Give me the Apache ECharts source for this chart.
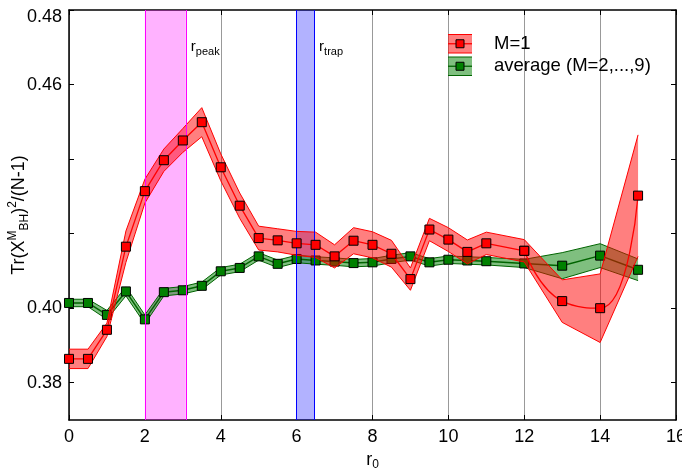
<!DOCTYPE html>
<html><head><meta charset="utf-8">
<script src="https://cdn.jsdelivr.net/npm/echarts@6/dist/echarts.min.js"></script>
<style>html,body{margin:0;padding:0;background:#fff}#c{width:682px;height:470px}</style>
</head><body><div id="c"></div>
<script>
// ---- data ----
const r0 = [0,0.5,1,1.5,2,2.5,3,3.5,4,4.5,5,5.5,6,6.5,7,7.5,8,8.5,9,9.5,10,10.5,11,12,13,14,15];
const m1 = [0.3864,0.3864,0.3942,0.4165,0.4314,0.4397,0.4450,0.4499,0.4378,0.4275,0.4188,0.4182,0.4174,0.4170,0.4139,0.4181,0.4170,0.4146,0.4078,0.4211,0.4184,0.4151,0.4174,0.4154,0.4019,0.4000,0.4302];
const m1Err = [0.0026,0.0026,0.0018,0.0042,0.0032,0.0030,0.0032,0.0039,0.0036,0.0034,0.0032,0.0031,0.0032,0.0034,0.0031,0.0035,0.0035,0.0036,0.0030,0.0030,0.0032,0.0032,0.0030,0.0030,0.0057,0.0092,0.0163];
const avg = [0.4014,0.4014,0.3982,0.4045,0.3970,0.4043,0.4048,0.4060,0.4099,0.4108,0.4139,0.4119,0.4132,0.4128,0.4125,0.4121,0.4123,0.4132,0.4139,0.4123,0.4130,0.4128,0.4126,0.4120,0.4114,0.4141,0.4103];
const avgErr = [0.0010,0.0010,0.0012,0.0012,0.0012,0.0010,0.0010,0.0010,0.0010,0.0010,0.0010,0.0010,0.0010,0.0010,0.0010,0.0010,0.0010,0.0010,0.0010,0.0010,0.0010,0.0010,0.0010,0.0011,0.0035,0.0032,0.0029];
const yTickValues = [0.38,0.40,0.42,0.44,0.46,0.48];
const yLabelValues = [0.38,0.40,0.46,0.48];
const bandLabels = ['peak','trap'];
const bandFrom = [2, 6];
const bandTo = [3.08, 6.46];
const legendNames = ['M=1','average (M=2,...,9)'];
const splineFrom = 12;

// ---- styling ----
const FONT = 'Liberation Sans, Arial, Helvetica, sans-serif';
const bandFill = ['rgba(255,0,255,0.3)','rgba(0,0,255,0.3)'];
const bandEdge = ['#ff00ff','#0000ff'];
const RED = '#ff0000', RED_FILL = 'rgba(255,0,0,0.5)';
const GREEN = '#008000', GREEN_EDGE = '#006400', GREEN_FILL = 'rgba(0,128,0,0.5)';

const chart = echarts.init(document.getElementById('c'));
const pairs = (ys, idx) => idx.map(i => [r0[i], ys[i]]);
const allIdx = r0.map((_, i) => i);
const split = r0.indexOf(splineFrom);
const idxA = allIdx.filter(i => i <= split);
const idxB = allIdx.filter(i => i >= split);
const yTop = yTickValues[yTickValues.length - 1];

function bandSeries(ys, es, fill, edge) {
  return {
    type: 'custom', silent: true, z: 2,
    data: r0.map((x, i) => [x, ys[i] - es[i], ys[i] + es[i]]),
    encode: { x: 0, y: [1, 2] },
    renderItem: function (params, api) {
      if (params.dataIndex !== 0) return null;
      const up = r0.map((x, i) => api.coord([x, ys[i] + es[i]]));
      const lo = r0.map((x, i) => api.coord([x, ys[i] - es[i]]));
      return { type: 'group', children: [
        { type: 'polygon', shape: { points: up.concat(lo.slice().reverse()) }, style: { fill: fill, stroke: null } },
        { type: 'polyline', shape: { points: up }, style: { stroke: edge, lineWidth: 1, fill: null } },
        { type: 'polyline', shape: { points: lo }, style: { stroke: edge, lineWidth: 1, fill: null } }
      ] };
    }
  };
}
const marker = (c) => ({ color: c, borderColor: '#000', borderWidth: 1 });

const regionSeries = {
  type: 'line', data: [], z: 1, silent: true,
  markArea: {
    silent: true,
    data: bandFrom.map((f, i) => [
      { xAxis: f, itemStyle: { color: bandFill[i] },
        label: { show: true, position: ['100%', 27], formatter: '{r|r}{s|' + bandLabels[i] + '}',
          rich: { r: { fontSize: 15, fontFamily: FONT, color: '#000', lineHeight: 20, padding: [0,0,0,5] },
                  s: { fontSize: 11, fontFamily: FONT, color: '#000', lineHeight: 12, verticalAlign: 'bottom' } } } },
      { xAxis: bandTo[i] }
    ])
  },
  markLine: {
    silent: true, symbol: 'none', label: { show: false },
    data: [].concat(...bandFrom.map((f, i) => [
      { xAxis: f, lineStyle: { color: bandEdge[i], width: 1, type: 'solid' } },
      { xAxis: bandTo[i], lineStyle: { color: bandEdge[i], width: 1, type: 'solid' } }
    ]))
  }
};

const series = [
  regionSeries,
  bandSeries(avg, avgErr, GREEN_FILL, GREEN_EDGE),
  { name: legendNames[1], type: 'line', data: pairs(avg, allIdx), symbol: 'rect', symbolSize: 9, z: 3,
    lineStyle: { color: GREEN_EDGE, width: 1.5 }, itemStyle: marker(GREEN) },
  Object.assign(bandSeries(m1, m1Err, RED_FILL, RED), { z: 4 }),
  { name: legendNames[0], type: 'line', data: pairs(m1, idxA), symbol: 'rect', symbolSize: 9, z: 5,
    lineStyle: { color: RED, width: 1.3 }, itemStyle: marker(RED) },
  { name: legendNames[0], type: 'line', data: pairs(m1, idxB), symbol: 'rect', symbolSize: 9, smooth: 0.5, z: 5,
    lineStyle: { color: RED, width: 1.3 }, itemStyle: marker(RED) }
];

// legend drawn as graphic (band swatch + line + marker)
const legFill = [RED_FILL, GREEN_FILL], legEdge = [RED, GREEN_EDGE], legMark = [RED, GREEN];
const graphic = [];
legendNames.forEach((nm, i) => {
  const top = 34.5 + i * 22.5, h = 18.5, left = 448, w = 24, cy = top + h / 2;
  graphic.push(
    { type: 'rect', shape: { x: left, y: top, width: w, height: h }, style: { fill: legFill[i] }, z: 100 },
    { type: 'line', shape: { x1: left, y1: top, x2: left + w, y2: top }, style: { stroke: legEdge[i], lineWidth: 1 }, z: 101 },
    { type: 'line', shape: { x1: left, y1: top + h, x2: left + w, y2: top + h }, style: { stroke: legEdge[i], lineWidth: 1 }, z: 101 },
    { type: 'line', shape: { x1: left, y1: cy, x2: left + w, y2: cy }, style: { stroke: legEdge[i], lineWidth: 1.3 }, z: 101 },
    { type: 'rect', shape: { x: left + w / 2 - 4, y: cy - 4, width: 8, height: 8 }, style: { fill: legMark[i], stroke: '#000', lineWidth: 1 }, z: 102 },
    { type: 'text', x: 494, y: cy, style: { text: nm, font: '18.5px ' + FONT, fill: '#000', verticalAlign: 'middle', align: 'left' }, z: 102 }
  );
});

const axisLine = { show: true, onZero: false, lineStyle: { color: '#000', width: 1.5 } };
const tick = { show: true, inside: true, length: 5, lineStyle: { color: '#000', width: 1 } };

const option = {
  animation: false,
  backgroundColor: '#fff',
  grid: { left: 69, right: 6, top: 10, bottom: 50, containLabel: false, outerBoundsMode: 'none' },
  xAxis: [
    { type: 'value', min: 0, max: 16, interval: 2, position: 'bottom',
      axisLine: axisLine, axisTick: tick,
      axisLabel: { color: '#000', fontSize: 18, fontFamily: FONT, margin: 8 },
      splitLine: { show: true, lineStyle: { color: '#999', width: 1 } },
      name: '{n|r}{s|0}', nameLocation: 'middle', nameGap: 29, nameMoveOverlap: false,
      nameTextStyle: { rich: { n: { fontSize: 18, fontFamily: FONT, color: '#000', lineHeight: 22 },
                               s: { fontSize: 12, fontFamily: FONT, color: '#000', lineHeight: 13, verticalAlign: 'bottom' } } } },
    { type: 'value', min: 0, max: 16, interval: 2, position: 'top',
      axisLine: axisLine, axisTick: tick, axisLabel: { show: false }, splitLine: { show: false } }
  ],
  yAxis: [
    { type: 'value', min: 0.37, max: 0.48, position: 'left',
      axisLine: axisLine, axisTick: Object.assign({ customValues: yTickValues }, tick),
      axisLabel: { customValues: yLabelValues, color: '#000', fontSize: 18, fontFamily: FONT, margin: 7,
                   formatter: v => Math.abs(v - yTop) < 1e-9 ? '{t|' + Number(v).toFixed(2) + '}' : Number(v).toFixed(2),
                   rich: { t: { fontSize: 18, fontFamily: FONT, color: '#000', padding: [15, 0, 0, 0] } } },
      splitLine: { show: false },
      name: '{n|Tr(X}{sp|M}{sb|BH}{n|)}{sp|2}{n|/(N-1)}', nameLocation: 'middle', nameGap: 38, nameRotate: 90,
      nameMoveOverlap: false,
      nameTextStyle: { rich: { n: { fontSize: 18, fontFamily: FONT, color: '#000', lineHeight: 24 },
                               sp: { fontSize: 12, fontFamily: FONT, color: '#000', lineHeight: 12, verticalAlign: 'top' },
                               sb: { fontSize: 12, fontFamily: FONT, color: '#000', lineHeight: 12, verticalAlign: 'bottom' } } } },
    { type: 'value', min: 0.37, max: 0.48, position: 'right',
      axisLine: axisLine, axisTick: Object.assign({ customValues: yTickValues }, tick),
      axisLabel: { show: false }, splitLine: { show: false } }
  ],
  graphic: graphic,
  series: series
};
chart.setOption(option);
</script>
</body></html>
